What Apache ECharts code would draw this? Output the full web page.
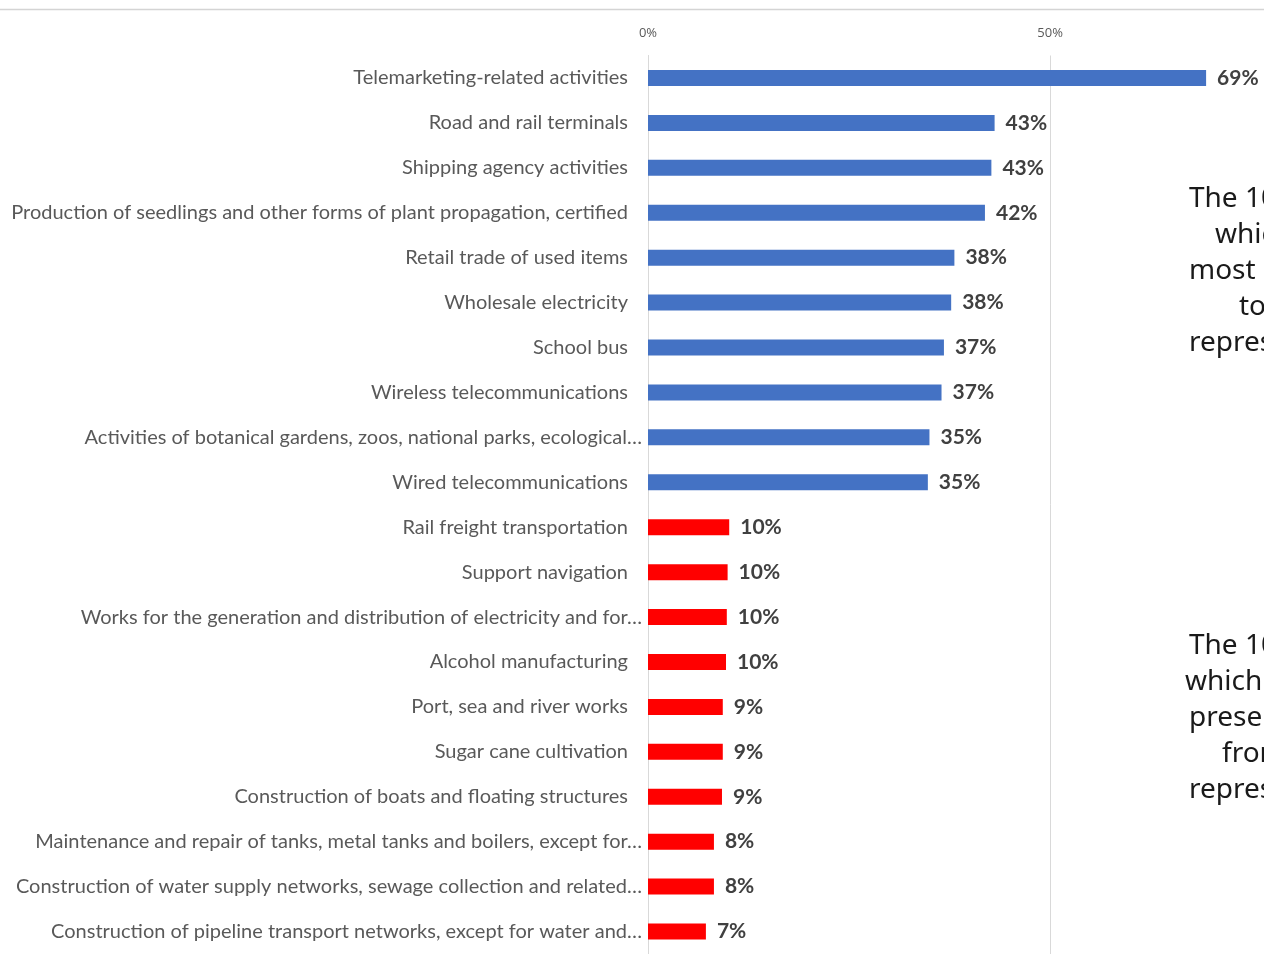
<!DOCTYPE html>
<html><head><meta charset="utf-8">
<script src="https://cdn.jsdelivr.net/npm/echarts@6/dist/echarts.min.js"></script>
<style>html,body{margin:0;padding:0;background:#fff;}#c{width:1264px;height:954px;}</style>
</head><body><div id="c"></div>
<script>
const categories = [
  "Telemarketing-related activities",
  "Road and rail terminals",
  "Shipping agency activities",
  "Production of seedlings and other forms of plant propagation, certified",
  "Retail trade of used items",
  "Wholesale electricity",
  "School bus",
  "Wireless telecommunications",
  "Activities of botanical gardens, zoos, national parks, ecological…",
  "Wired telecommunications",
  "Rail freight transportation",
  "Support navigation",
  "Works for the generation and distribution of electricity and for…",
  "Alcohol manufacturing",
  "Port, sea and river works",
  "Sugar cane cultivation",
  "Construction of boats and floating structures",
  "Maintenance and repair of tanks, metal tanks and boilers, except for…",
  "Construction of water supply networks, sewage collection and related…",
  "Construction of pipeline transport networks, except for water and…"
];
const values = [69.4, 43.1, 42.7, 41.9, 38.1, 37.7, 36.8, 36.5, 35.0, 34.8,
                10.1, 9.9, 9.8, 9.7, 9.3, 9.3, 9.2, 8.2, 8.2, 7.2];
const groups = ["top","top","top","top","top","top","top","top","top","top",
                "bottom","bottom","bottom","bottom","bottom","bottom","bottom","bottom","bottom","bottom"];
const tickLabels = ["0%", "50%"];
const noteTop = ["The 10 sectors in", "which women are", "most present in relation", "to their", "representation"];
const noteBottom = ["The 10 sectors in", "which women are", "present the least", "from their", "representation"];

const groupColors = { top: "#4472C4", bottom: "#FF0000" };

const chart = echarts.init(document.getElementById('c'), null, {renderer: 'canvas'});
const noteFont = '"Noto Sans", sans-serif';
const labelFont = 'Lato, "Open Sans", sans-serif';
const noteX1 = [1189, 1215, 1189, 1239, 1189];
const noteX2 = [1189, 1185, 1189, 1222, 1189];
const graphics = [
  {type: 'line', shape: {x1: 0, y1: 9.5, x2: 1264, y2: 9.5}, style: {stroke: '#d4d4d4', lineWidth: 1.5}}
];
noteTop.forEach((t, i) => graphics.push({type: 'text', left: noteX1[i], top: 185 + i * 36,
  style: {text: t, font: '28px ' + noteFont, fill: '#1a1a1a'}}));
noteBottom.forEach((t, i) => graphics.push({type: 'text', left: noteX2[i], top: 632 + i * 36,
  style: {text: t, font: '28px ' + noteFont, fill: '#1a1a1a'}}));

chart.setOption({
  animation: false,
  grid: {left: 648, top: 55.5, right: 0, height: 901},
  xAxis: {
    type: 'value', position: 'top', min: 0, max: 76.6, interval: 50,
    axisLine: {show: false}, axisTick: {show: false},
    splitLine: {lineStyle: {color: '#d9d9d9', width: 1}},
    axisLabel: {margin: 16, color: '#595959', fontSize: 13, fontFamily: '"Open Sans", sans-serif',
      showMaxLabel: false,
      formatter: v => (v % 50 === 0 ? tickLabels[v / 50] : '')}
  },
  yAxis: {
    type: 'category', inverse: true, data: categories,
    axisLine: {show: true, lineStyle: {color: '#d9d9d9', width: 1}},
    axisTick: {show: false},
    axisLabel: {
      margin: 6, color: '#595959', fontSize: 20, fontFamily: labelFont,
      formatter: v => v.endsWith('…') ? v : '{n|' + v + '}',
      rich: {n: {padding: [0, 14, 0, 0], color: '#595959', fontSize: 20, fontFamily: labelFont}}
    }
  },
  series: [{
    type: 'bar', barWidth: 16,
    data: values.map((v, i) => ({value: v, itemStyle: {color: groupColors[groups[i]]}})),
    label: {show: true, position: 'right', distance: 11, color: '#404040', fontWeight: 'bold',
      fontSize: 21, fontFamily: labelFont,
      formatter: p => Math.round(p.value) + '%'}
  }],
  graphic: graphics
});
</script></body></html>
